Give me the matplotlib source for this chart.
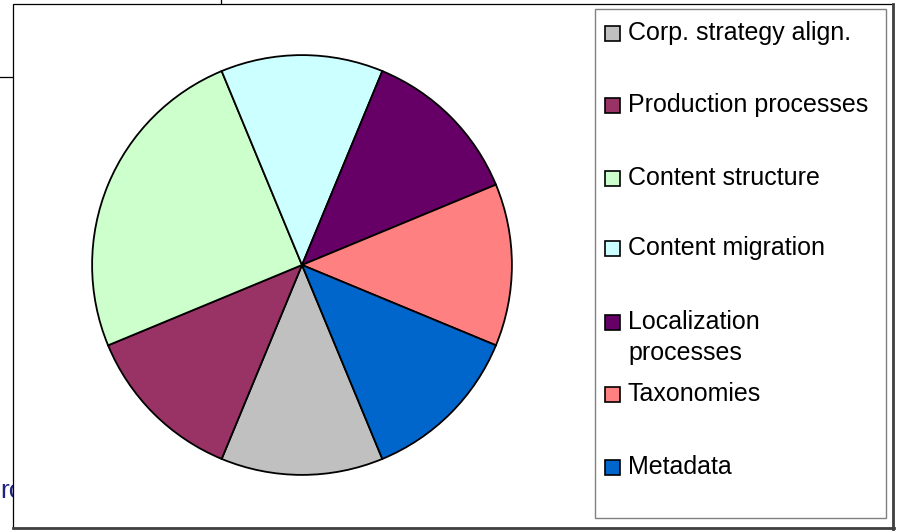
import matplotlib.pyplot as plt
from matplotlib.patches import Rectangle

# Chart data
labels = [
    "Corp. strategy align.",
    "Production processes",
    "Content structure",
    "Content migration",
    "Localization\nprocesses",
    "Taxonomies",
    "Metadata",
]
values = [1, 1, 2, 1, 1, 1, 1]
colors = ["#C0C0C0", "#993366", "#CCFFCC", "#CCFFFF", "#660066", "#FF8080", "#0066CC"]

# legend baselines (pixel rows from top) for each entry's first line
legend_baselines = [40, 112, 185, 255, 329, 401, 474]

W, H = 903, 532
plt.rcParams["font.family"] = ["Liberation Sans", "DejaVu Sans"]

fig = plt.figure(figsize=(W / 100, H / 100), dpi=100)

# background axes in pixel coordinates
bg = fig.add_axes([0, 0, 1, 1])
bg.set_xlim(0, W)
bg.set_ylim(H, 0)
bg.axis("off")

# stray bits of the surrounding page
bg.text(0, 498, "ro", fontsize=19, color="#202080", va="baseline", ha="left", zorder=1)
bg.plot([0, 13], [77, 77], color="black", lw=0.9, zorder=1)
bg.plot([221.5, 221.5], [0, 3.5], color="black", lw=0.9, zorder=1)

# chart frame
bg.add_patch(Rectangle((13, 3.5), 880, 524.5, facecolor="white", edgecolor="black", lw=0.9, zorder=2))
bg.plot([893, 893], [3.5, 528.5], color="#404040", lw=2.0, zorder=3)
bg.plot([13, 894], [528, 528], color="#404040", lw=2.0, zorder=3)

# legend box
bg.add_patch(Rectangle((595, 9), 291, 509, facecolor="white", edgecolor="#808080", lw=1.0, zorder=3))
for lab, col, yb in zip(labels, colors, legend_baselines):
    bg.add_patch(Rectangle((605, yb - 14), 15, 15, facecolor=col, edgecolor="black", lw=1.2, zorder=4))
    for i, line in enumerate(lab.split("\n")):
        bg.text(628, yb + 31 * i, line, fontsize=18, va="baseline", ha="left", zorder=4)

# pie
cx, cy, r = 302, 265, 212
ax = fig.add_axes([(cx - r) / W, (H - cy - r) / H, 2 * r / W, 2 * r / H])
ax.pie(
    values,
    colors=colors,
    startangle=-67.5,
    counterclock=False,
    radius=1.0,
    wedgeprops=dict(edgecolor="black", linewidth=1.3),
)
ax.set_xlim(-1.01, 1.01)
ax.set_ylim(-1.01, 1.01)
ax.set_aspect("auto")
ax.axis("off")

fig.savefig("out.png", dpi=100)
